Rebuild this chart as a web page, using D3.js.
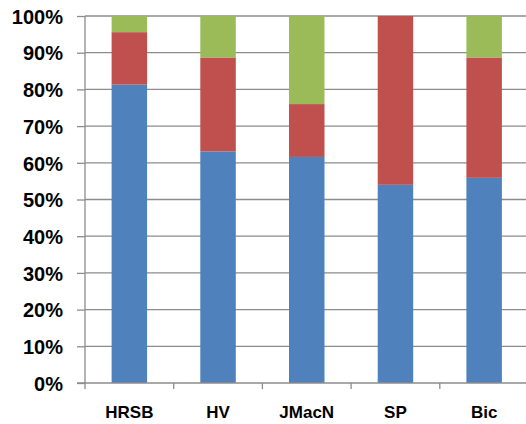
<!DOCTYPE html>
<html><head><meta charset="utf-8">
<script src="https://cdn.jsdelivr.net/npm/d3@7"></script>
<style>body{margin:0;background:#fff}svg{display:block}text{font-family:"Liberation Sans",Arial,sans-serif;font-weight:bold;fill:#000}</style>
</head><body>
<svg id="c" width="526" height="424"></svg>
<script>
const categories = ["HRSB","HV","JMacN","SP","Bic"];
const blue  = [81.3, 63.1, 61.6, 54.0, 55.9];
const red   = [14.3, 25.6, 14.4, 46.0, 32.8];
const green = [4.4, 11.3, 24.0, 0.0, 11.3];
const yTicks = [0,10,20,30,40,50,60,70,80,90,100];
const seriesNames = ["blue","red","green"];
const colors = ["#4F81BD","#C0504D","#9BBB59"];

const rows = categories.map((c,i)=>({cat:c, blue:blue[i], red:red[i], green:green[i]}));
const svg = d3.select("#c");
const x = d3.scaleBand().domain(categories).range([85, 528.5]).paddingInner(0.6).paddingOuter(0.3);
const xb = d3.scaleBand().domain(categories).range([85, 528.5]);
const y = d3.scaleLinear().domain([0,100]).range([383, 16]);

// gridlines
svg.append("g").selectAll("line").data(yTicks.filter(d=>d>0)).join("line")
  .attr("x1",85).attr("x2",526).attr("y1",d=>y(d)).attr("y2",d=>y(d))
  .attr("stroke","#8c8c8c").attr("stroke-width",1.3);

const stack = d3.stack().keys(seriesNames)(rows);
svg.append("g").selectAll("g").data(stack).join("g")
  .attr("fill",(d,i)=>colors[i])
  .selectAll("rect").data(d=>d).join("rect")
  .attr("x",d=>x(d.data.cat)).attr("width",x.bandwidth())
  .attr("y",d=>y(d[1])).attr("height",d=>Math.max(0,y(d[0])-y(d[1])));

// y axis
const ya = svg.append("g").attr("transform","translate(85,0)")
  .call(d3.axisLeft(y).tickValues(yTicks).tickFormat(d=>d+"%").tickSize(8).tickPadding(14));
ya.select(".domain").attr("stroke","#8c8c8c").attr("stroke-width",1.3).attr("d","M0,16V383");
ya.selectAll(".tick line").attr("stroke","#8c8c8c").attr("stroke-width",1.3);
ya.selectAll(".tick text").attr("font-size",20).attr("font-family","Liberation Sans, Arial, sans-serif").attr("font-weight","bold").attr("dy","0.36em");

// x axis
const xa = svg.append("g").attr("transform","translate(0,383)");
xa.append("line").attr("x1",77).attr("x2",526).attr("y1",0).attr("y2",0).attr("stroke","#8c8c8c").attr("stroke-width",1.3);
xa.selectAll("line.t").data(categories).join("line").attr("class","t")
  .attr("x1",d=>xb(d)).attr("x2",d=>xb(d)).attr("y1",0).attr("y2",6)
  .attr("stroke","#8c8c8c").attr("stroke-width",1.3);
xa.selectAll("text").data(categories).join("text")
  .attr("x",d=>xb(d)+xb.bandwidth()/2).attr("y",35).attr("text-anchor","middle")
  .attr("font-size",17).text(d=>d);
</script>
</body></html>
